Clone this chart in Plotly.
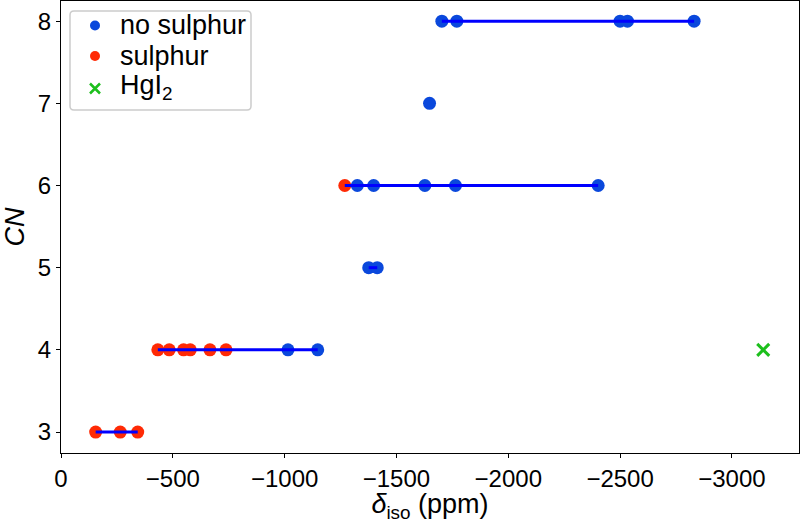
import plotly.graph_objects as go

# Data
cn_no_sulphur = [4, 4, 5, 5, 6, 6, 6, 6, 6, 7, 8, 8, 8, 8, 8]
delta_no_sulphur = [-1015, -1148, -1376, -1414, -1325, -1398, -1627, -1764, -2402,
                    -1648, -1703, -1770, -2500, -2533, -2831]

cn_sulphur = [3, 3, 3, 4, 4, 4, 4, 4, 4, 6]
delta_sulphur = [-155, -265, -343, -433, -484, -548, -578, -666, -738, -1269]

cn_hgi2 = [4]
delta_hgi2 = [-3140]

x_ticks = [0, -500, -1000, -1500, -2000, -2500, -3000]
y_ticks = [3, 4, 5, 6, 7, 8]

legend_labels = ["no sulphur", "sulphur", "HgI<sub>2</sub>"]

# range lines per CN (min to max over all points)
all_cn = cn_no_sulphur + cn_sulphur
all_d = delta_no_sulphur + delta_sulphur
line_x, line_y = [], []
for c in sorted(set(all_cn)):
    vals = [d for cc, d in zip(all_cn, all_d) if cc == c]
    if len(vals) > 1:
        line_x += [max(vals), min(vals), None]
        line_y += [c, c, None]

FONT = "Liberation Sans, Arial, Helvetica, sans-serif"
BLUE, RED, GREEN = "#0a48dc", "#ff2a05", "#1cbf1c"

W, H = 801, 523
ML, MR, MT, MB = 61, 2, 1, 70
PW, PH = W - ML - MR, H - MT - MB


def px(x):
    return (x - ML) / PW


def py(y):
    return 1 - (y - MT) / PH


fig = go.Figure()
fig.add_trace(go.Scatter(x=delta_no_sulphur, y=cn_no_sulphur, mode="markers",
                         name="no sulphur", showlegend=False,
                         marker=dict(color=BLUE, size=13)))
fig.add_trace(go.Scatter(x=delta_sulphur, y=cn_sulphur, mode="markers",
                         name="sulphur", showlegend=False,
                         marker=dict(color=RED, size=13)))
fig.add_trace(go.Scatter(x=line_x, y=line_y, mode="lines", showlegend=False,
                         line=dict(color="#0000ff", width=3), hoverinfo="skip"))
fig.add_trace(go.Scatter(x=delta_hgi2, y=cn_hgi2, mode="markers",
                         name="HgI2", showlegend=False,
                         marker=dict(symbol="x-thin", size=12, color=GREEN,
                                     line=dict(color=GREEN, width=3))))

# --- legend drawn manually (box, keys, labels) ---
lx0, ly0, lx1, ly1, r = 70, 11, 251, 110, 4
rx, ry = r / PW, r / PH
x0, x1, y0, y1 = px(lx0), px(lx1), py(ly1), py(ly0)
path = (f"M {x0+rx},{y0} L {x1-rx},{y0} Q {x1},{y0} {x1},{y0+ry} "
        f"L {x1},{y1-ry} Q {x1},{y1} {x1-rx},{y1} L {x0+rx},{y1} "
        f"Q {x0},{y1} {x0},{y1-ry} L {x0},{y0+ry} Q {x0},{y0} {x0+rx},{y0} Z")
fig.add_shape(type="path", path=path, xref="paper", yref="paper",
              line=dict(color="#cccccc", width=1.5), fillcolor="white",
              layer="below")

key_y = [25.5, 56, 88.5]
text_y = [25, 56, 87]
fig.add_trace(go.Scatter(x=[px(95)] * 2, y=[py(key_y[0]), py(key_y[1])],
                         xaxis="x2", yaxis="y2", mode="markers", showlegend=False,
                         hoverinfo="skip",
                         marker=dict(color=[BLUE, RED], size=10)))
fig.add_trace(go.Scatter(x=[px(95)], y=[py(key_y[2])], xaxis="x2", yaxis="y2",
                         mode="markers", showlegend=False, hoverinfo="skip",
                         marker=dict(symbol="x-thin", size=10, color=GREEN,
                                     line=dict(color=GREEN, width=2.5))))
for lab, ty in zip(legend_labels, text_y):
    fig.add_annotation(x=px(118), y=py(ty), xref="paper", yref="paper",
                       text=lab, showarrow=False, xanchor="left", yanchor="middle",
                       font=dict(size=27, family=FONT, color="black"))

fig.update_layout(
    width=W, height=H,
    margin=dict(l=ML, r=MR, t=MT, b=MB),
    paper_bgcolor="white", plot_bgcolor="rgba(0,0,0,0)",
    font=dict(family=FONT, color="black", size=24),
    showlegend=False,
    xaxis2=dict(overlaying="x", range=[0, 1], visible=False, fixedrange=True),
    yaxis2=dict(overlaying="y", range=[0, 1], visible=False, fixedrange=True),
)
fig.update_layout(xaxis=dict(range=[0, -3300], tickvals=x_ticks, ticks="outside", ticklen=4,
                             tickwidth=1.2, tickcolor="black", showline=True, linecolor="black",
                             linewidth=1.3, mirror=True, showgrid=False, zeroline=False,
                             tickfont=dict(size=24),
                             title=dict(text="<i>δ</i><sub>iso</sub> (ppm)",
                                        font=dict(size=27), standoff=2)),
                  yaxis=dict(range=[2.745, 8.245], tickvals=y_ticks, ticks="outside", ticklen=4,
                             tickwidth=1.2, tickcolor="black", showline=True, linecolor="black",
                             linewidth=1.3, mirror=True, showgrid=False, zeroline=False,
                             tickfont=dict(size=24),
                             title=dict(text="<i>CN</i>", font=dict(size=27), standoff=6)))

fig.write_html("out.html")
